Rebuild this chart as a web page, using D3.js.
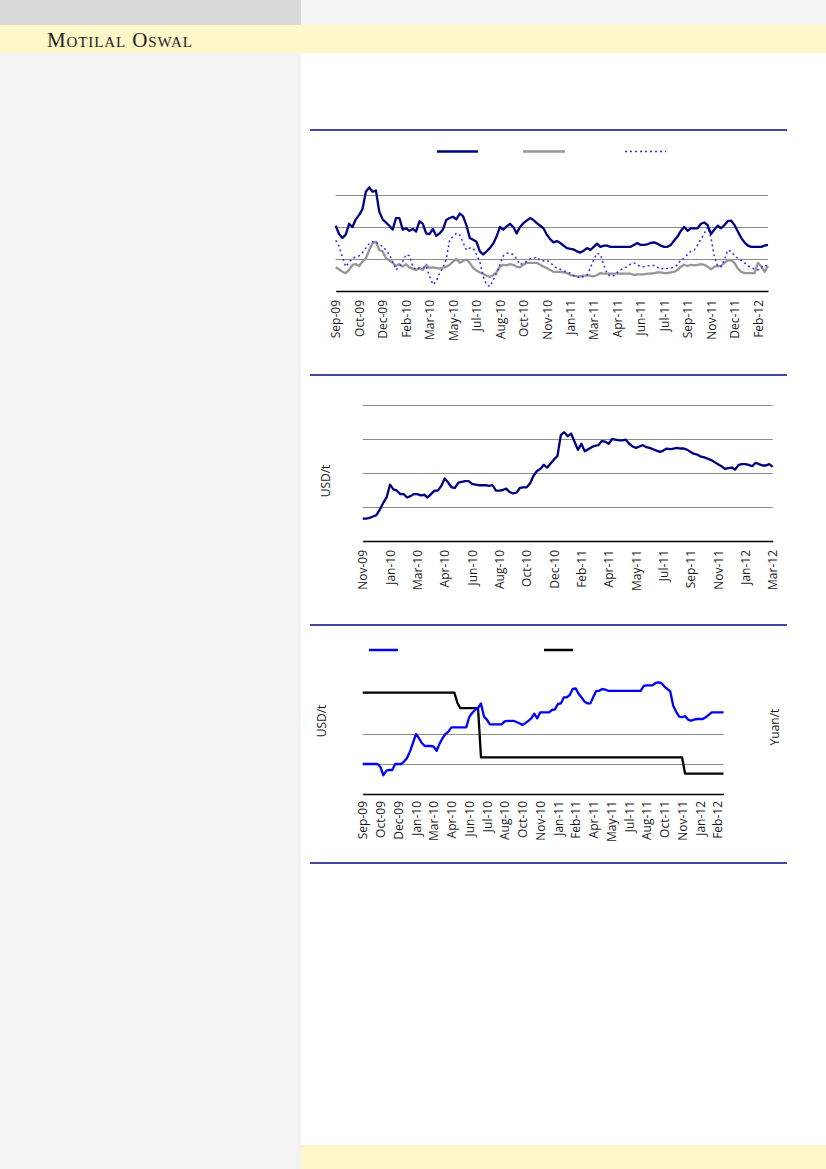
<!DOCTYPE html>
<html>
<head>
<meta charset="utf-8">
<script src="https://cdn.jsdelivr.net/npm/d3@7"></script>
<style>
  body { margin: 0; }
  svg { display: block; }
  .tick text { font-family: "Open Sans", sans-serif; font-size: 12px; fill: #1a1a1a; }
</style>
</head>
<body>
<svg width="826" height="1169"></svg>
<script>
// chart 1 : weekly, three series
const labels1 = ["Sep-09", "Oct-09", "Dec-09", "Feb-10", "Mar-10", "May-10", "Jul-10", "Aug-10", "Oct-10", "Nov-10",
  "Jan-11", "Mar-11", "Apr-11", "Jun-11", "Jul-11", "Sep-11", "Nov-11", "Dec-11", "Feb-12"];
const navy1 = [102, 89, 83, 88, 105, 100, 112, 119, 128, 155, 162, 155, 157, 124, 112, 107, 102, 96, 114, 114,
  96, 98, 94, 97, 93, 109, 105, 90, 89, 97, 86, 90, 96, 111, 114, 116, 112, 121, 117, 103,
  83, 80, 77, 62, 57, 62, 67, 74, 85, 100, 96, 101, 105, 100, 90, 100, 106, 110, 114, 111,
  106, 102, 98, 88, 81, 76, 78, 75, 71, 67, 66, 65, 62, 60, 63, 67, 64, 69, 74, 69,
  71, 71, 69, 69, 69, 69, 69, 69, 69, 72, 75, 72, 72, 73, 75, 76, 74, 71, 69, 69,
  72, 79, 85, 94, 100, 94, 98, 98, 98, 105, 107, 103, 89, 96, 102, 98, 103, 109, 110, 103,
  93, 83, 76, 71, 69, 69, 69, 69, 71, 72];
const grey1 = [37, 34, 30, 28, 33, 41, 42, 39, 46, 51, 64, 75, 77, 64, 62, 51, 48, 44, 39, 42,
  38, 42, 37, 35, 33, 36, 33, 41, 36, 37, 36, 35, 36, 38, 41, 46, 50, 44, 47, 49,
  44, 36, 32, 29, 27, 24, 22, 25, 29, 38, 41, 40, 42, 41, 38, 37, 41, 44, 44, 44,
  44, 41, 38, 36, 33, 30, 30, 30, 29, 28, 25, 24, 23, 23, 24, 24, 24, 23, 25, 28,
  27, 27, 27, 27, 27, 27, 27, 27, 27, 25, 26, 26, 26, 27, 27, 28, 29, 29, 28, 28,
  29, 30, 33, 38, 41, 39, 41, 40, 41, 42, 41, 38, 34, 38, 39, 39, 44, 48, 48, 44,
  35, 30, 28, 28, 28, 28, 44, 38, 30, 39];
const dotted1 = [79, 70, 53, 38, 45, 51, 53, 55, 60, 67, 74, 77, 77, 72, 70, 64, 57, 46, 33, 38,
  46, 57, 55, 38, 33, 36, 36, 39, 23, 10, 15, 28, 36, 50, 80, 85, 90, 88, 76, 64,
  67, 67, 57, 46, 23, 10, 7, 17, 28, 41, 55, 59, 59, 57, 50, 41, 44, 46, 50, 51,
  53, 48, 47, 48, 45, 39, 36, 34, 31, 30, 28, 24, 23, 20, 23, 25, 36, 49, 59, 57,
  41, 27, 23, 24, 29, 33, 36, 38, 42, 44, 41, 38, 38, 39, 40, 40, 37, 34, 36, 35,
  36, 37, 41, 49, 51, 57, 62, 64, 72, 81, 90, 100, 83, 53, 39, 38, 49, 64, 62, 55,
  51, 48, 44, 39, 37, 34, 33, 37, 41, 38];
const grid1 = [50, 100, 150];

// chart 2 : weekly, USD/t
const labels2 = ["Nov-09", "Jan-10", "Mar-10", "Apr-10", "Jun-10", "Aug-10", "Oct-10", "Dec-10", "Feb-11", "Apr-11",
  "May-11", "Jul-11", "Sep-11", "Nov-11", "Jan-12", "Mar-12"];
const price2 = [33, 33, 34, 36, 38, 46, 56, 64, 83, 76, 74, 69, 69, 64, 66, 69, 69, 67, 68, 64,
  69, 74, 74, 81, 92, 86, 79, 78, 86, 87, 88, 88, 84, 83, 82, 82, 82, 81, 82, 74,
  74, 75, 77, 72, 70, 71, 78, 79, 79, 85, 96, 103, 106, 112, 108, 114, 120, 125, 156, 160,
  154, 158, 146, 134, 143, 132, 135, 138, 140, 141, 147, 146, 143, 150, 149, 148, 148, 149, 143, 139,
  137, 139, 141, 138, 137, 135, 133, 131, 133, 136, 135, 136, 137, 136, 136, 134, 131, 128, 127, 124,
  123, 121, 119, 116, 113, 110, 106, 107, 108, 105, 112, 113, 113, 112, 110, 115, 113, 111, 111, 113, 109];
const grid2 = [50, 100, 150, 200];

// chart 3 : USD/t (left) and Yuan/t (right)
const labels3 = ["Sep-09", "Oct-09", "Dec-09", "Jan-10", "Mar-10", "Apr-10", "Jun-10", "Jul-10", "Aug-10", "Oct-10",
  "Nov-10", "Jan-11", "Feb-11", "Apr-11", "May-11", "Jul-11", "Aug-11", "Oct-11", "Nov-11", "Jan-12", "Feb-12"];
const usd3 = [50, 50, 50, 50, 50, 50, 45, 31, 39, 40, 40, 50, 50, 50, 54, 60, 71, 85, 100, 93,
  85, 80, 80, 80, 79, 72, 84, 93, 100, 104, 111, 111, 111, 111, 111, 111, 128, 135, 140, 143,
  151, 129, 124, 116, 116, 116, 116, 116, 121, 122, 122, 122, 120, 118, 115, 118, 122, 126, 134, 126,
  136, 136, 136, 136, 140, 141, 150, 151, 161, 161, 165, 175, 176, 167, 161, 154, 151, 151, 162, 172,
  172, 175, 174, 172, 172, 172, 172, 172, 172, 172, 172, 172, 172, 172, 172, 180, 181, 181, 181, 185,
  186, 185, 179, 175, 171, 147, 137, 129, 128, 130, 124, 122, 124, 125, 125, 125, 128, 132, 136, 136,
  136, 136, 136];
const yuan3 = [169, 169, 169, 169, 169, 169, 169, 169, 169, 169, 169, 169, 169, 169, 169, 169, 169, 169, 169, 169,
  169, 169, 169, 169, 169, 169, 169, 169, 169, 169, 169, 169, 152, 143, 143, 143, 143, 143, 143, 143,
  61, 61, 61, 61, 61, 61, 61, 61, 61, 61, 61, 61, 61, 61, 61, 61, 61, 61, 61, 61,
  61, 61, 61, 61, 61, 61, 61, 61, 61, 61, 61, 61, 61, 61, 61, 61, 61, 61, 61, 61,
  61, 61, 61, 61, 61, 61, 61, 61, 61, 61, 61, 61, 61, 61, 61, 61, 61, 61, 61, 61,
  61, 61, 61, 61, 61, 61, 61, 61, 61, 34, 34, 34, 34, 34, 34, 34, 34, 34, 34, 34,
  34, 34, 34];
const grid3 = [50, 100];

const svg = d3.select("svg");

// page background
svg.append("rect").attr("x", 0).attr("y", 0).attr("width", 301).attr("height", 25).attr("fill", "#d9d9d9");
svg.append("rect").attr("x", 301).attr("y", 0).attr("width", 525).attr("height", 25).attr("fill", "#f3f3f3");
svg.append("rect").attr("x", 0).attr("y", 25).attr("width", 826).attr("height", 28).attr("fill", "#fff7c7");
svg.append("rect").attr("x", 0).attr("y", 53).attr("width", 301).attr("height", 1116).attr("fill", "#f3f3f3");
svg.append("rect").attr("x", 301).attr("y", 53).attr("width", 525).attr("height", 1092).attr("fill", "#ffffff");
svg.append("rect").attr("x", 301).attr("y", 1145).attr("width", 525).attr("height", 24).attr("fill", "#fff7c7");

svg.append("text")
  .attr("x", 47)
  .attr("y", 47)
  .style("font-family", "'Liberation Serif', serif")
  .style("font-size", "21px")
  .style("font-variant", "small-caps")
  .style("letter-spacing", "0.9px")
  .attr("fill", "#222")
  .text("Motilal Oswal");

// section rules
[130, 375, 625, 863].forEach(y => {
  svg.append("line")
    .attr("x1", 310).attr("x2", 787)
    .attr("y1", y).attr("y2", y)
    .attr("stroke", "#0a0a80")
    .attr("stroke-width", 1.5);
});

function drawChart(opt) {
  const g = svg.append("g");
  const xScale = d3.scaleLinear().domain([0, opt.count - 1]).range([opt.left, opt.right]);
  const yScale = d3.scaleLinear().domain([0, 200]).range([opt.bottom, opt.top]);

  const yAxis = d3.axisLeft(yScale)
    .tickValues(opt.grid)
    .tickSize(-(opt.right - opt.left))
    .tickFormat("");
  const yAxisG = g.append("g").attr("transform", `translate(${opt.left},0)`).call(yAxis);
  yAxisG.select(".domain").remove();
  yAxisG.selectAll(".tick line").attr("stroke", "#8c8c8c").attr("stroke-width", 1.2);

  const xAxis = d3.axisBottom(xScale)
    .tickValues(opt.labels.map((d, i) => i * opt.step))
    .tickSize(0)
    .tickFormat((d, i) => opt.labels[i]);
  const xAxisG = g.append("g").attr("transform", `translate(0,${opt.bottom})`).call(xAxis);
  xAxisG.select(".domain").attr("stroke", "#000").attr("stroke-width", 1.3);
  xAxisG.selectAll(".tick text")
    .attr("transform", "rotate(-90)")
    .attr("text-anchor", "end")
    .attr("x", -opt.gap)
    .attr("y", 0)
    .attr("dy", "0.35em");

  opt.series.forEach(s => {
    const line = d3.line()
      .x((d, i) => xScale(i))
      .y(d => yScale(d));
    g.append("path")
      .datum(s.values)
      .attr("fill", "none")
      .attr("stroke", s.color)
      .attr("stroke-width", s.width)
      .attr("stroke-dasharray", s.dash || null)
      .attr("stroke-linejoin", "round")
      .attr("d", line);
  });
  return g;
}

function legendLine(x1, x2, y, color, width, dash) {
  svg.append("line")
    .attr("x1", x1).attr("x2", x2)
    .attr("y1", y).attr("y2", y)
    .attr("stroke", color)
    .attr("stroke-width", width)
    .attr("stroke-dasharray", dash || null);
}

function axisTitle(x, y, text) {
  svg.append("text")
    .attr("transform", `translate(${x},${y}) rotate(-90)`)
    .attr("text-anchor", "middle")
    .style("font-family", "'Open Sans', sans-serif")
    .style("font-size", "12px")
    .attr("fill", "#1a1a1a")
    .text(text);
}

// chart 1
drawChart({
  count: navy1.length, step: 7, labels: labels1, grid: grid1,
  left: 335.7, right: 768, top: 163, bottom: 291, gap: 9,
  series: [
    { values: grey1, color: "#969696", width: 2.3 },
    { values: dotted1, color: "#2b2bff", width: 1.5, dash: "2,3" },
    { values: navy1, color: "#000080", width: 2.3 }
  ]
});
legendLine(437, 478, 151.5, "#000080", 2.5);
legendLine(523, 565, 151.5, "#969696", 2.5);
legendLine(625, 666, 151.5, "#2b2bff", 1.5, "2,3");

// chart 2
drawChart({
  count: price2.length, step: 8, labels: labels2, grid: grid2,
  left: 362.7, right: 772.7, top: 405, bottom: 541, gap: 9,
  series: [
    { values: price2, color: "#000080", width: 2.3 }
  ]
});
axisTitle(330, 481, "USD/t");

// chart 3
drawChart({
  count: usd3.length, step: 6, labels: labels3, grid: grid3,
  left: 362.7, right: 723.5, top: 674, bottom: 794, gap: 7,
  series: [
    { values: yuan3, color: "#000000", width: 2.3 },
    { values: usd3, color: "#0000ff", width: 2.3 }
  ]
});
legendLine(369, 398, 650, "#0000ff", 2.5);
legendLine(544, 573, 650, "#000000", 2.5);
axisTitle(326, 721, "USD/t");
axisTitle(779, 727, "Yuan/t");
</script>
</body>
</html>
